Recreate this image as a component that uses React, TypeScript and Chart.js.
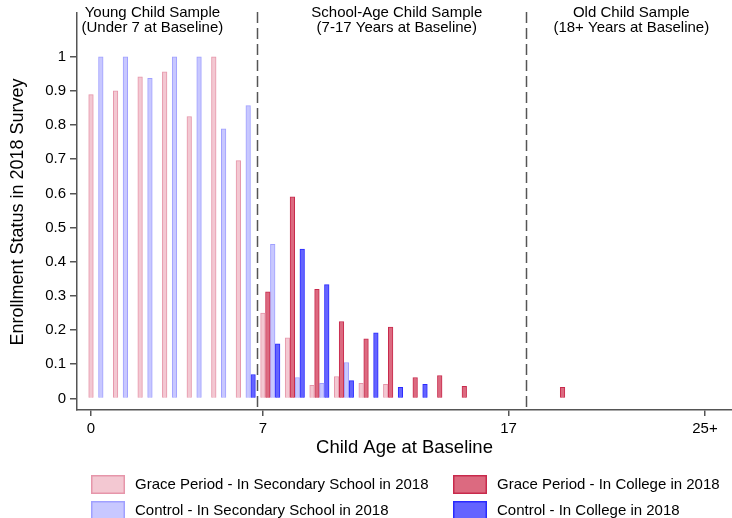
import React, { useEffect, useRef } from "react";
import { Chart, registerables } from "chart.js";

Chart.register(...registerables);

const ages = [0, 1, 2, 3, 4, 5, 6, 7, 8, 9, 10, 11, 12, 13, 14, 15, 19];
const graceSecondary = [0.889, 0.9, 0.941, 0.956, 0.825, 1.0, 0.696, 0.25, 0.177, 0.038, 0.064, 0.044, 0.041, null, null, null, null];
const controlSecondary = [1.0, 1.0, 0.937, 1.0, 1.0, 0.789, 0.857, 0.451, 0.061, 0.044, 0.105, null, null, null, null, null, null];
const graceCollege = [null, null, null, null, null, null, null, 0.312, 0.59, 0.319, 0.225, 0.174, 0.209, 0.061, 0.067, 0.035, 0.032];
const controlCollege = [null, null, null, null, null, null, 0.07, 0.16, 0.437, 0.333, 0.052, 0.192, 0.032, 0.041, null, null, null];

const seriesLabels = [
  "Grace Period - In Secondary School in 2018",
  "Grace Period - In College in 2018",
  "Control - In Secondary School in 2018",
  "Control - In College in 2018",
];
const xTickValues = [0, 7, 17, 25];
const yTickValues = [0, 0.1, 0.2, 0.3, 0.4, 0.5, 0.6, 0.7, 0.8, 0.9, 1];
const dividers = [6.75, 17.72];
const regionTitles = [
  { x: 2.5, lines: ["Young Child Sample", "(Under 7 at Baseline)"] },
  { x: 12.45, lines: ["School-Age Child Sample", "(7-17 Years at Baseline)"] },
  { x: 22.0, lines: ["Old Child Sample", "(18+ Years at Baseline)"] },
];

const FONT = '"Liberation Sans", Arial, Helvetica, sans-serif';
const fills = ["#f3c8d2", "#dc6a80", "#c8c8ff", "#6464ff"];
const borders = ["#e696aa", "#c82a4c", "#a0a0ff", "#2a2aff"];
const offsets = [0, 0.2, 0.4, 0.6];

function build(values: (number | null)[], off: number) {
  const out: { x: number; y: number }[] = [];
  values.forEach((v, i) => {
    if (v !== null) out.push({ x: ages[i] + off, y: v });
  });
  return out;
}

const overlay = {
  id: "overlay",
  beforeDatasetsDraw(chart: any) {
    const { ctx, chartArea, scales } = chart;
    ctx.save();
    ctx.strokeStyle = "#555";
    ctx.lineWidth = 1.5;
    ctx.setLineDash([11, 5]);
    dividers.forEach((d) => {
      const px = Math.round(scales.x.getPixelForValue(d)) + 0.5;
      ctx.beginPath();
      ctx.moveTo(px, 12);
      ctx.lineTo(px, chartArea.bottom);
      ctx.stroke();
    });
    ctx.restore();
  },
  afterDraw(chart: any) {
    const { ctx, scales, chartArea } = chart;
    ctx.save();
    ctx.fillStyle = "#000";
    ctx.textAlign = "center";
    ctx.textBaseline = "middle";
    ctx.font = `15px ${FONT}`;
    regionTitles.forEach((r) => {
      const px = scales.x.getPixelForValue(r.x);
      ctx.fillText(r.lines[0], px, 13);
      ctx.fillText(r.lines[1], px, 28);
    });
    // axis titles
    ctx.font = `18.5px ${FONT}`;
    ctx.fillText("Child Age at Baseline", (chartArea.left + chartArea.right) / 2, 448);
    ctx.save();
    ctx.translate(18, 212);
    ctx.rotate(-Math.PI / 2);
    ctx.font = `18px ${FONT}`;
    ctx.fillText("Enrollment Status in 2018 Survey", 0, 0);
    ctx.restore();
    // legend
    const cells = [
      { i: 0, bx: 91, by: 475 },
      { i: 2, bx: 91, by: 501 },
      { i: 1, bx: 453, by: 475 },
      { i: 3, bx: 453, by: 501 },
    ];
    ctx.font = `15px ${FONT}`;
    ctx.textAlign = "left";
    cells.forEach((c) => {
      ctx.fillStyle = fills[c.i];
      ctx.fillRect(c.bx, c.by, 34, 19);
      ctx.strokeStyle = borders[c.i];
      ctx.lineWidth = 1.5;
      ctx.strokeRect(c.bx + 0.75, c.by + 0.75, 32.5, 17.5);
      ctx.fillStyle = "#000";
      ctx.fillText(seriesLabels[c.i], c.bx + 44, c.by + 10);
    });
    ctx.restore();
  },
};

export default function App() {
  const ref = useRef<HTMLCanvasElement>(null);
  useEffect(() => {
    document.body.style.margin = "0";
    const seriesValues = [graceSecondary, graceCollege, controlSecondary, controlCollege];
    const chart = new Chart(ref.current as HTMLCanvasElement, {
      type: "bar",
      data: {
        datasets: seriesValues.map((vals, k) => ({
          label: seriesLabels[k],
          data: build(vals, offsets[k]),
          backgroundColor: fills[k],
          borderColor: borders[k],
          borderWidth: 1,
          barThickness: 4.6,
          grouped: false,
        })) as any,
      },
      options: {
        animation: false,
        responsive: false,
        maintainAspectRatio: false,
        layout: { padding: { top: 10, right: 0, left: 0, bottom: 0 } },
        plugins: { legend: { display: false }, tooltip: { enabled: false } },
        scales: {
          x: {
            type: "linear",
            min: -0.57,
            max: 26.1,
            offset: false,
            afterBuildTicks: (s: any) => {
              s.ticks = xTickValues.map((v) => ({ value: v }));
            },
            afterFit: (s: any) => {
              s.height = 108;
            },
            ticks: {
              autoSkip: false,
              maxRotation: 0,
              color: "#000",
              padding: 4,
              font: { family: FONT, size: 15 },
              callback: (v: any) => (v === 25 ? "25+" : String(v)),
            },
            grid: { offset: false, drawOnChartArea: false, tickLength: 6, color: "#555", lineWidth: 1.5 },
            border: { display: true, color: "#555", width: 1.5 },
          },
          y: {
            type: "linear",
            min: -0.034,
            max: 1.128,
            afterBuildTicks: (s: any) => {
              s.ticks = yTickValues.map((v) => ({ value: v }));
            },
            afterFit: (s: any) => {
              s.width = 77;
            },
            ticks: {
              autoSkip: false,
              color: "#000",
              padding: 4,
              font: { family: FONT, size: 15 },
              callback: (v: any) => (v === 0 ? "0" : v === 1 ? "1" : Number(v).toFixed(1)),
            },
            grid: { drawOnChartArea: false, tickLength: 7, color: "#555", lineWidth: 1.5 },
            border: { display: true, color: "#555", width: 1.5 },
          },
        },
      },
      plugins: [overlay],
    });
    return () => chart.destroy();
  }, []);
  return (
    <div style={{ position: "fixed", left: 0, top: 0, width: 732, height: 518, background: "#fff" }}>
      <canvas ref={ref} width={732} height={518} style={{ width: 732, height: 518 }} />
    </div>
  );
}
